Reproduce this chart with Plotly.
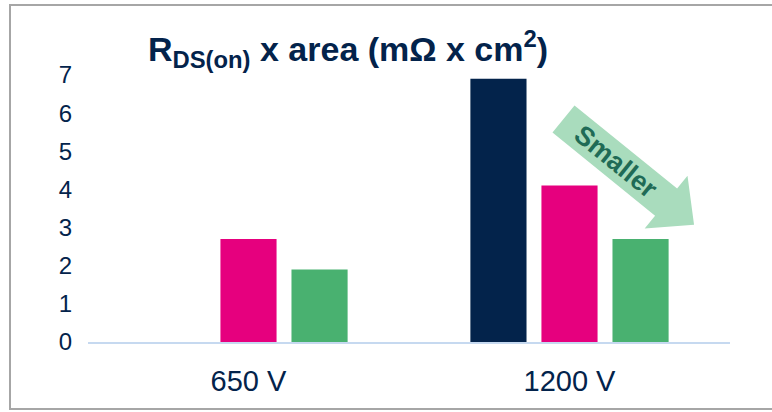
import math
import plotly.graph_objects as go

# Categories and series values (mΩ x cm²)
voltages = ["650 V", "1200 V"]
gen1 = [None, 6.9]
gen2 = [2.7, 4.1]
gen3 = [1.9, 2.7]
y_ticks = [0, 1, 2, 3, 4, 5, 6, 7]

NAVY = "#03234b"
PINK = "#e6007e"
GREEN = "#49b170"
FONT = "Liberation Sans, Arial, sans-serif"

W, H = 772, 412
ML, MR, MT, MB = 88, 42, 75, 70
PW, PH = W - ML - MR, H - MT - MB

fig = go.Figure()
for name, vals, col in [("Gen 1", gen1, NAVY), ("Gen 2", gen2, PINK), ("Gen 3", gen3, GREEN)]:
    fig.add_trace(go.Bar(x=voltages, y=vals, name=name, marker=dict(color=col, line=dict(width=0))))


def to_paper(px, py):
    return (px - ML) / PW, (MT + PH - py) / PH


# "Smaller" arrow, laid out in pixels then converted to paper fractions
ang = math.radians(39)
ux, uy = math.cos(ang), math.sin(ang)
nx, ny = -uy, ux
cx, cy = 563.5, 119.0
shaft_w, shaft_len, head_w, head_len = 35, 132, 68, 36
pts_px = [
    (cx + nx * shaft_w / 2, cy + ny * shaft_w / 2),
    (cx + ux * shaft_len + nx * shaft_w / 2, cy + uy * shaft_len + ny * shaft_w / 2),
    (cx + ux * shaft_len + nx * head_w / 2, cy + uy * shaft_len + ny * head_w / 2),
    (cx + ux * (shaft_len + head_len), cy + uy * (shaft_len + head_len)),
    (cx + ux * shaft_len - nx * head_w / 2, cy + uy * shaft_len - ny * head_w / 2),
    (cx + ux * shaft_len - nx * shaft_w / 2, cy + uy * shaft_len - ny * shaft_w / 2),
    (cx - nx * shaft_w / 2, cy - ny * shaft_w / 2),
]
pts = [to_paper(*p) for p in pts_px]
path = "M " + " L ".join(f"{x:.4f},{y:.4f}" for x, y in pts) + " Z"

tx, ty = to_paper(cx + ux * 68, cy + uy * 68)

# outer frame
fx0, fy0 = to_paper(10, 409)
fx1, fy1 = to_paper(790, 5)

fig.update_layout(
    width=W, height=H,
    margin=dict(l=ML, r=MR, t=MT, b=MB),
    paper_bgcolor="white", plot_bgcolor="white",
    barmode="group", bargap=0.336, bargroupgap=0.21,
    showlegend=False,
    font=dict(family=FONT, color=NAVY),
    xaxis=dict(
        range=[-0.5, 1.5], showgrid=False, zeroline=False,
        showline=True, linecolor="#c6d9f0", linewidth=2,
        tickfont=dict(size=29, color=NAVY), ticks="", ticklabelstandoff=12,
    ),
    yaxis=dict(
        range=[0, 7], tickvals=y_ticks, showgrid=False, zeroline=False, showline=False,
        tickfont=dict(size=24, color=NAVY), ticks="", ticklabelstandoff=15,
    ),
    shapes=[
        dict(type="path", path=path, xref="paper", yref="paper",
             fillcolor="#a9dcbd", line=dict(width=0), layer="above"),
        dict(type="rect", xref="paper", yref="paper", x0=fx0, y0=fy0, x1=fx1, y1=fy1,
             line=dict(color="#a6a6a6", width=2), fillcolor="rgba(0,0,0,0)", layer="below"),
    ],
    annotations=[
        dict(text="<b>R<sub>DS(on)</sub> x area (mΩ x cm<sup>2</sup>)</b>",
             xref="paper", yref="paper", x=to_paper(146, 0)[0], y=to_paper(0, 49)[1],
             xanchor="left", yanchor="middle", showarrow=False,
             font=dict(size=34, color=NAVY, family=FONT)),
        dict(text="<b>Smaller</b>", xref="paper", yref="paper", x=tx, y=ty,
             xanchor="center", yanchor="middle", showarrow=False, textangle=39,
             font=dict(size=27, color="#1f6b56", family=FONT)),
    ],
)

fig.write_html("out.html")
